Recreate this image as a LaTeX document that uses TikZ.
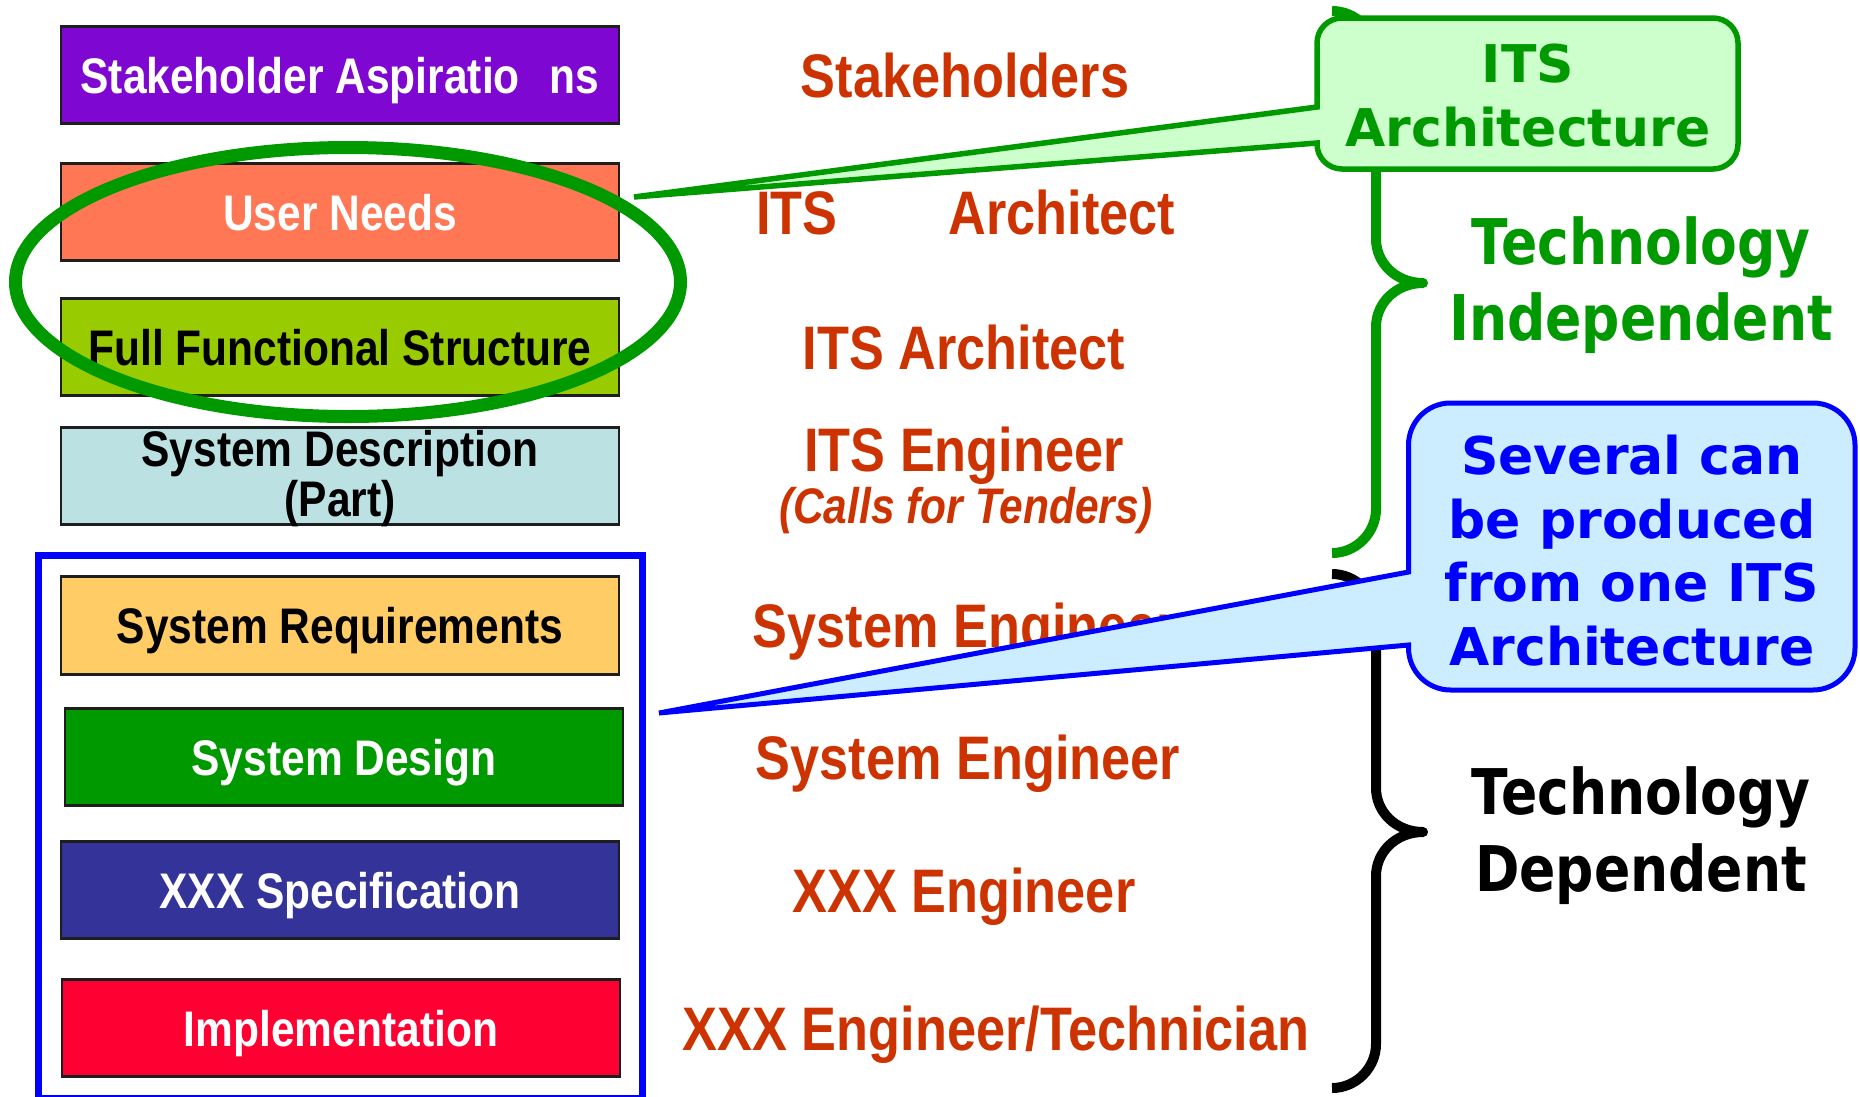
\documentclass[tikz,border=0pt]{standalone}
\usepackage{fontspec}
\usetikzlibrary{shapes.geometric}
\setmainfont{Liberation Sans}
\newfontfamily\narrowfont{Liberation Sans}[FakeStretch=0.85]
\newfontfamily\vfont{DejaVu Sans}
\newfontfamily\vnarrowfont{DejaVu Sans}[FakeStretch=0.85]

\definecolor{boxline}{HTML}{1E1E1E}
\definecolor{cPurple}{HTML}{7E08D2}
\definecolor{cCoral}{HTML}{FF7755}
\definecolor{cLime}{HTML}{99CC00}
\definecolor{cCyan}{HTML}{BBE1E3}
\definecolor{cPeach}{HTML}{FFCC66}
\definecolor{cGreen}{HTML}{009900}
\definecolor{cNavy}{HTML}{333399}
\definecolor{cRed}{HTML}{FF0033}
\definecolor{roleC}{HTML}{CC3300}
\definecolor{gFill}{HTML}{CCFFCC}
\definecolor{bFill}{HTML}{CCECFF}
\definecolor{bLine}{HTML}{0000FF}

\newcommand\bxfont{\narrowfont\bfseries\fontsize{50}{56}\selectfont}
\newcommand\rlfont{\narrowfont\bfseries\fontsize{61.5}{70}\selectfont}
\newcommand\rlitfont{\narrowfont\bfseries\itshape\fontsize{50}{56}\selectfont}
\newcommand\calfont{\vfont\bfseries\fontsize{52}{60}\selectfont}
\newcommand\techfont{\vnarrowfont\bfseries\fontsize{63}{70}\selectfont}

\begin{document}
\begin{tikzpicture}[x=1pt,y=-1pt,
  stagebox/.style={draw=boxline, line width=2.8pt, rectangle,
    minimum width=558pt, minimum height=97.5pt, inner sep=0pt,
    text height=36pt, text depth=0pt, font=\bxfont},
  boxtext/.style={anchor=base, inner sep=0pt, font=\bxfont},
  role/.style={anchor=base, inner sep=0pt, text=roleC, font=\rlfont},
  calltext/.style={anchor=base, inner sep=0pt, font=\calfont},
  techtext/.style={anchor=base, inner sep=0pt, font=\techfont},
  brace/.style={line width=10pt, line join=round},
  gcall/.style={draw=cGreen, fill=gFill, line width=5.5pt, line join=miter},
  bcall/.style={draw=bLine, fill=bFill, line width=5pt, line join=miter}]

\useasboundingbox (0,0) rectangle (1860,1096);

% stages of the life cycle
\node[stagebox, fill=cPurple, text=white] (s1) at (340,75)
  {Stakeholder Aspiratio\hspace{30pt}ns};
\node[stagebox, fill=cCoral, text=white] (s2) at (340,212) {User Needs};
\node[stagebox, fill=cLime, text=black] (s3) at (340,347) {Full Functional Structure};
\node[stagebox, fill=cCyan] (s4) at (340,476) {};
\node[boxtext] (s4a) at (340,466) {System Description};
\node[boxtext] (s4b) at (340,516) {(Part)};
\node[stagebox, fill=cPeach, text=black] (s5) at (340,625.5) {System Requirements};
\node[stagebox, fill=cGreen, text=white] (s6) at (344,757) {System Design};
\node[stagebox, fill=cNavy, text=white] (s7) at (340,890) {XXX Specification};
\node[stagebox, fill=cRed, text=white] (s8) at (341,1028) {Implementation};

% frame round the technology dependent stages
\draw[bLine, line width=7pt] (38.5,555) rectangle (642,1098);

% who produces each stage
\node[role] (r1) at (965,97) {Stakeholders};
\node[role] (r2a) at (797,234) {ITS};
\node[role] (r2b) at (1062,234) {Architect};
\node[role] (r3) at (964,369) {ITS Architect};
\node[role] (r4) at (964,471) {ITS Engineer};
\node[anchor=base, inner sep=0pt, text=roleC, font=\rlitfont] (r4b) at (966,523) {(Calls for Tenders)};
\node[role] (r5) at (965,647) {System Engineer};
\node[role] (r6) at (968,779) {System Engineer};
\node[role] (r7) at (964,912) {XXX Engineer};
\node[role] (r8) at (996,1050) {XXX Engineer/Technician};

% braces
\draw[brace, cGreen] (1332,11) .. controls (1356,11) and (1376,31) .. (1376,55)
  -- (1376,239) .. controls (1376,263) and (1396,283) .. (1423,283)
  .. controls (1396,283) and (1376,303) .. (1376,327)
  -- (1376,509) .. controls (1376,533) and (1356,553) .. (1332,553);
\draw[brace, black] (1332,574) .. controls (1356,574) and (1376,594) .. (1376,618)
  -- (1376,788) .. controls (1376,812) and (1396,832) .. (1423,832)
  .. controls (1396,832) and (1376,852) .. (1376,876)
  -- (1376,1044) .. controls (1376,1068) and (1356,1088) .. (1332,1088);

\node[techtext, text=cGreen] (ti1) at (1641,264.5) {Technology};
\node[techtext, text=cGreen] (ti2) at (1641,340) {Independent};
\node[techtext, text=black] (td1) at (1641,814) {Technology};
\node[techtext, text=black] (td2) at (1641,891) {Dependent};

% ring round the technology independent stages
\node[draw=cGreen, line width=13pt, ellipse, minimum width=665pt,
  minimum height=269pt, inner sep=0pt] (ring) at (348,282) {};

% callout: ITS Architecture
\coordinate (gtip) at (634,197);
\path[gcall] (gtip) -- (1317,107) [rounded corners=25pt] -- (1317,18) -- (1738,18)
  -- (1738,169) -- (1317,169) [sharp corners] -- (1317,143) -- cycle;
\node[calltext, text=cGreen] (ga1) at (1528,82) {ITS};
\node[calltext, text=cGreen] (ga2) at (1528,146) {Architecture};

% callout: several architectures
\coordinate (btip) at (659,713);
\path[bcall] (btip) -- (1408.5,572) [rounded corners=42pt] -- (1408.5,403) -- (1855,403)
  -- (1855,690) -- (1408.5,690) [sharp corners] -- (1408.5,645) -- cycle;
\node[calltext, text=bLine] (bc1) at (1632,474) {Several can};
\node[calltext, text=bLine] (bc2) at (1632,538) {be produced};
\node[calltext, text=bLine] (bc3) at (1632,601) {from one ITS};
\node[calltext, text=bLine] (bc4) at (1632,665) {Architecture};
\end{tikzpicture}
\end{document}
